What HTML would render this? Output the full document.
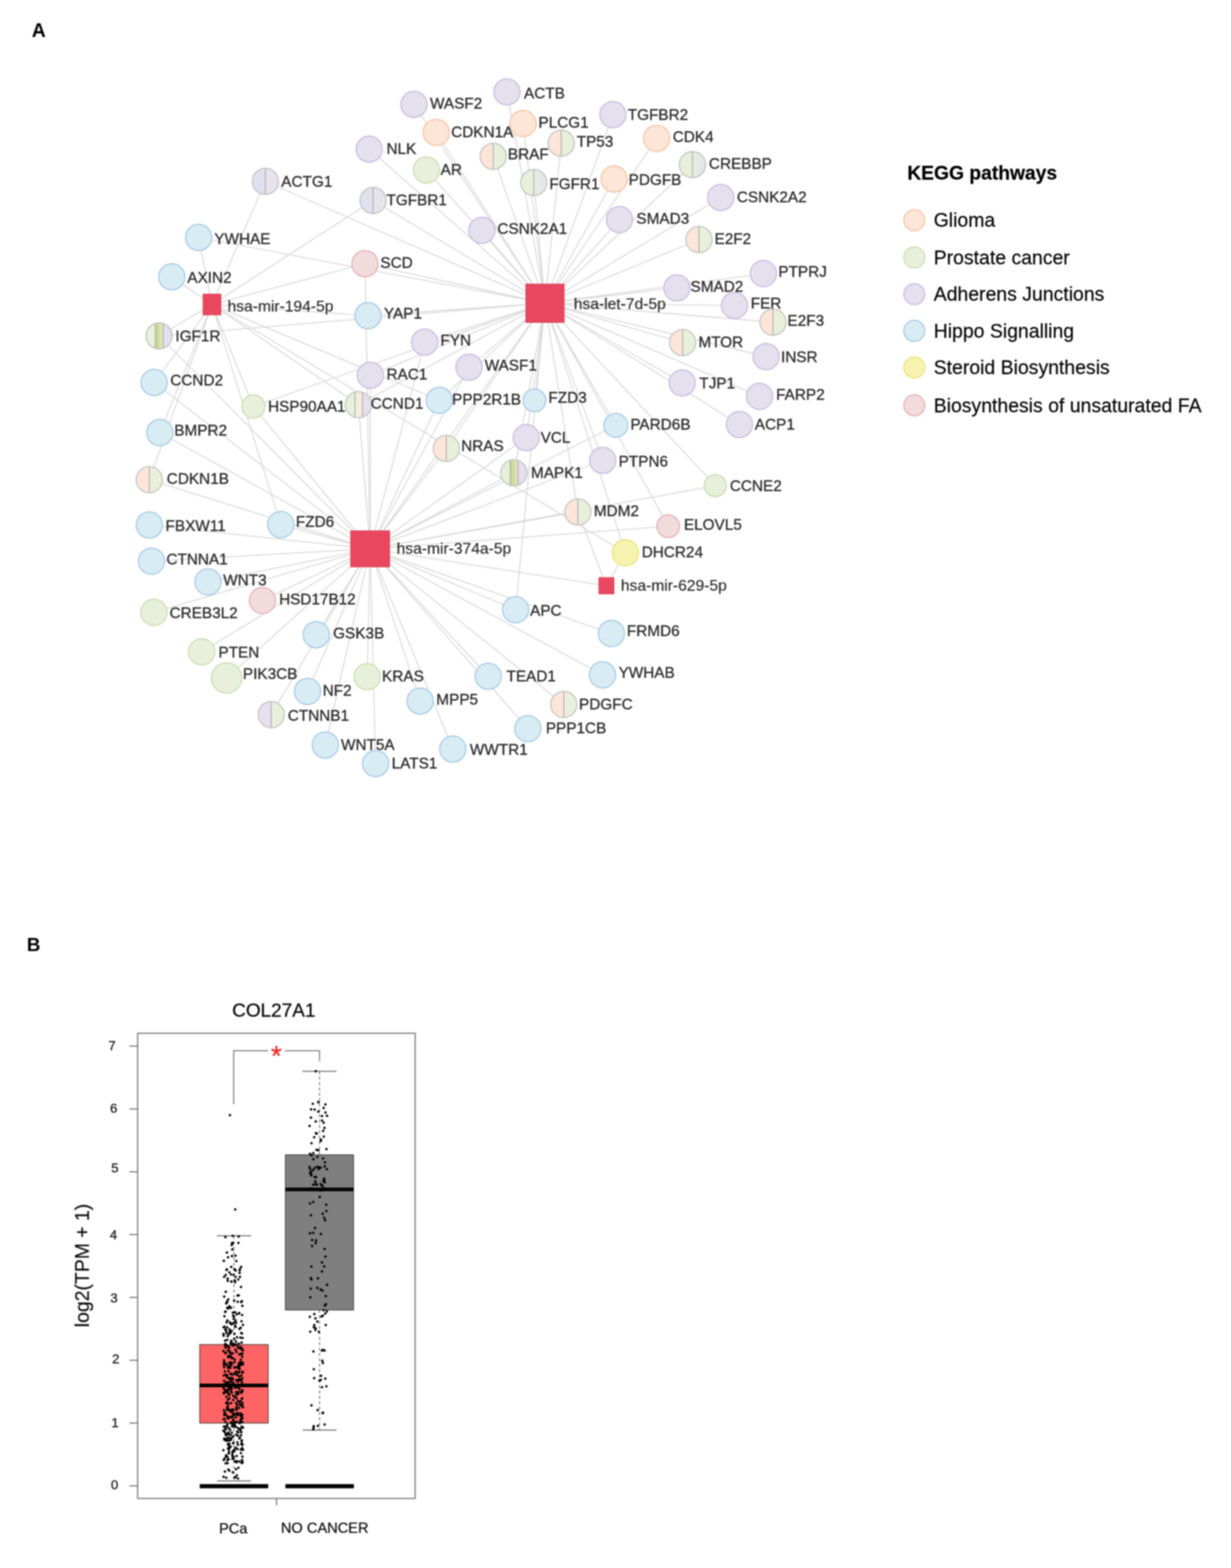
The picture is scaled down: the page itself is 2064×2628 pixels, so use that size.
<!DOCTYPE html><html><head><meta charset="utf-8"><style>html,body{margin:0;padding:0;background:#fff;}body{width:2064px;height:2628px;overflow:hidden;}svg{display:block;filter:blur(0.95px);}text{font-family:"Liberation Sans",Arial,sans-serif;}</style></head><body>
<svg width="2064" height="2628" viewBox="0 0 2064 2628">
<rect width="2064" height="2628" fill="#fff"/>
<text x="53.2" y="62" font-size="32.5" font-weight="bold" fill="#000">A</text>
<text x="45" y="1594" font-size="31.5" font-weight="bold" fill="#000">B</text>
<g stroke="#d9d9d9" stroke-width="1.75" fill="none">
<line x1="355.4" y1="510.4" x2="333.0" y2="398.0"/>
<line x1="355.4" y1="510.4" x2="445.0" y2="304.0"/>
<line x1="355.4" y1="510.4" x2="288.0" y2="464.0"/>
<line x1="355.4" y1="510.4" x2="625.5" y2="336.0"/>
<line x1="355.4" y1="510.4" x2="612.0" y2="442.0"/>
<line x1="355.4" y1="510.4" x2="617.0" y2="529.0"/>
<line x1="355.4" y1="510.4" x2="266.7" y2="563.0"/>
<line x1="355.4" y1="510.4" x2="258.5" y2="641.0"/>
<line x1="355.4" y1="510.4" x2="268.0" y2="725.0"/>
<line x1="355.4" y1="510.4" x2="250.4" y2="804.0"/>
<line x1="355.4" y1="510.4" x2="424.8" y2="681.3"/>
<line x1="355.4" y1="510.4" x2="601.0" y2="678.3"/>
<line x1="355.4" y1="510.4" x2="470.8" y2="879.2"/>
<line x1="355.4" y1="510.4" x2="1048.6" y2="926.6"/>
<line x1="355.4" y1="510.4" x2="736.6" y2="671.0"/>
<line x1="913.8" y1="508.2" x2="694.0" y2="175.0"/>
<line x1="913.8" y1="508.2" x2="850.0" y2="154.0"/>
<line x1="913.8" y1="508.2" x2="731.5" y2="222.0"/>
<line x1="913.8" y1="508.2" x2="877.0" y2="207.0"/>
<line x1="913.8" y1="508.2" x2="1027.6" y2="192.0"/>
<line x1="913.8" y1="508.2" x2="1101.0" y2="232.0"/>
<line x1="913.8" y1="508.2" x2="619.0" y2="250.0"/>
<line x1="913.8" y1="508.2" x2="827.0" y2="262.0"/>
<line x1="913.8" y1="508.2" x2="941.0" y2="240.0"/>
<line x1="913.8" y1="508.2" x2="715.0" y2="285.0"/>
<line x1="913.8" y1="508.2" x2="1161.0" y2="276.0"/>
<line x1="913.8" y1="508.2" x2="895.0" y2="306.0"/>
<line x1="913.8" y1="508.2" x2="1029.6" y2="300.0"/>
<line x1="913.8" y1="508.2" x2="445.0" y2="304.0"/>
<line x1="913.8" y1="508.2" x2="625.5" y2="336.0"/>
<line x1="913.8" y1="508.2" x2="1208.5" y2="331.0"/>
<line x1="913.8" y1="508.2" x2="1038.7" y2="368.0"/>
<line x1="913.8" y1="508.2" x2="808.0" y2="386.0"/>
<line x1="913.8" y1="508.2" x2="333.0" y2="398.0"/>
<line x1="913.8" y1="508.2" x2="1172.0" y2="401.5"/>
<line x1="913.8" y1="508.2" x2="612.0" y2="442.0"/>
<line x1="913.8" y1="508.2" x2="1280.0" y2="458.6"/>
<line x1="913.8" y1="508.2" x2="1135.0" y2="482.5"/>
<line x1="913.8" y1="508.2" x2="1231.6" y2="512.0"/>
<line x1="913.8" y1="508.2" x2="1296.0" y2="540.0"/>
<line x1="913.8" y1="508.2" x2="266.7" y2="563.0"/>
<line x1="913.8" y1="508.2" x2="1144.5" y2="574.2"/>
<line x1="913.8" y1="508.2" x2="1284.6" y2="597.8"/>
<line x1="913.8" y1="508.2" x2="1143.8" y2="641.7"/>
<line x1="913.8" y1="508.2" x2="1273.5" y2="664.3"/>
<line x1="913.8" y1="508.2" x2="1239.8" y2="711.4"/>
<line x1="913.8" y1="508.2" x2="1032.5" y2="712.9"/>
<line x1="913.8" y1="508.2" x2="882.4" y2="733.4"/>
<line x1="913.8" y1="508.2" x2="896.2" y2="671.0"/>
<line x1="913.8" y1="508.2" x2="1010.6" y2="771.7"/>
<line x1="913.8" y1="508.2" x2="861.6" y2="792.5"/>
<line x1="913.8" y1="508.2" x2="968.9" y2="858.0"/>
<line x1="913.8" y1="508.2" x2="1199.4" y2="813.9"/>
<line x1="913.8" y1="508.2" x2="1120.4" y2="882.0"/>
<line x1="913.8" y1="508.2" x2="1048.6" y2="926.6"/>
<line x1="913.8" y1="508.2" x2="786.4" y2="615.4"/>
<line x1="913.8" y1="508.2" x2="712.0" y2="573.5"/>
<line x1="913.8" y1="508.2" x2="621.0" y2="629.0"/>
<line x1="913.8" y1="508.2" x2="424.8" y2="681.3"/>
<line x1="913.8" y1="508.2" x2="617.0" y2="529.0"/>
<line x1="913.8" y1="508.2" x2="601.0" y2="678.3"/>
<line x1="913.8" y1="508.2" x2="736.6" y2="671.0"/>
<line x1="913.8" y1="508.2" x2="748.3" y2="751.5"/>
<line x1="913.8" y1="508.2" x2="864.5" y2="1022.1"/>
<line x1="620.6" y1="919.9" x2="250.4" y2="880.0"/>
<line x1="620.6" y1="919.9" x2="470.8" y2="879.2"/>
<line x1="620.6" y1="919.9" x2="254.0" y2="940.6"/>
<line x1="620.6" y1="919.9" x2="348.7" y2="975.3"/>
<line x1="620.6" y1="919.9" x2="440.0" y2="1006.6"/>
<line x1="620.6" y1="919.9" x2="258.0" y2="1026.2"/>
<line x1="620.6" y1="919.9" x2="530.2" y2="1063.7"/>
<line x1="620.6" y1="919.9" x2="338.2" y2="1092.4"/>
<line x1="620.6" y1="919.9" x2="380.0" y2="1136.3"/>
<line x1="620.6" y1="919.9" x2="615.7" y2="1134.2"/>
<line x1="620.6" y1="919.9" x2="515.6" y2="1158.8"/>
<line x1="620.6" y1="919.9" x2="454.7" y2="1197.8"/>
<line x1="620.6" y1="919.9" x2="545.4" y2="1248.7"/>
<line x1="620.6" y1="919.9" x2="629.8" y2="1279.7"/>
<line x1="620.6" y1="919.9" x2="704.4" y2="1175.0"/>
<line x1="620.6" y1="919.9" x2="759.2" y2="1255.4"/>
<line x1="620.6" y1="919.9" x2="818.6" y2="1133.4"/>
<line x1="620.6" y1="919.9" x2="885.0" y2="1221.2"/>
<line x1="620.6" y1="919.9" x2="945.3" y2="1180.8"/>
<line x1="620.6" y1="919.9" x2="1010.2" y2="1131.0"/>
<line x1="620.6" y1="919.9" x2="1025.1" y2="1061.8"/>
<line x1="620.6" y1="919.9" x2="864.5" y2="1022.1"/>
<line x1="620.6" y1="919.9" x2="1120.4" y2="882.0"/>
<line x1="620.6" y1="919.9" x2="1199.4" y2="813.9"/>
<line x1="620.6" y1="919.9" x2="968.9" y2="858.0"/>
<line x1="620.6" y1="919.9" x2="861.6" y2="792.5"/>
<line x1="620.6" y1="919.9" x2="882.4" y2="733.4"/>
<line x1="620.6" y1="919.9" x2="748.3" y2="751.5"/>
<line x1="620.6" y1="919.9" x2="736.6" y2="671.0"/>
<line x1="620.6" y1="919.9" x2="786.4" y2="615.4"/>
<line x1="620.6" y1="919.9" x2="712.0" y2="573.5"/>
<line x1="620.6" y1="919.9" x2="601.0" y2="678.3"/>
<line x1="620.6" y1="919.9" x2="621.0" y2="629.0"/>
<line x1="620.6" y1="919.9" x2="612.0" y2="442.0"/>
<line x1="620.6" y1="919.9" x2="258.5" y2="641.0"/>
<line x1="620.6" y1="919.9" x2="268.0" y2="725.0"/>
<line x1="620.6" y1="919.9" x2="250.4" y2="804.0"/>
<line x1="620.6" y1="919.9" x2="266.7" y2="563.0"/>
<line x1="620.6" y1="919.9" x2="1010.6" y2="771.7"/>
<line x1="620.6" y1="919.9" x2="1032.5" y2="712.9"/>
<line x1="620.6" y1="919.9" x2="424.8" y2="681.3"/>
<line x1="1016.8" y1="981.8" x2="968.9" y2="858.0"/>
<line x1="1016.8" y1="981.8" x2="1048.6" y2="926.6"/>
<line x1="620.6" y1="919.9" x2="1016.8" y2="981.8"/>
<line x1="620.6" y1="919.9" x2="913.8" y2="508.2"/>
</g>
<defs><linearGradient id="gM1" x1="0" x2="1" y1="0" y2="0"><stop offset="0" stop-color="#bfd392"/><stop offset="0.35" stop-color="#cddc9e"/><stop offset="1" stop-color="#efe4c6"/></linearGradient><linearGradient id="gM2" x1="0" x2="1" y1="0" y2="0"><stop offset="0" stop-color="#e9ecda"/><stop offset="0.4" stop-color="#f4efd9"/><stop offset="1" stop-color="#fbeadc"/></linearGradient><linearGradient id="gPX" x1="0" x2="1" y1="0" y2="0"><stop offset="0" stop-color="#e9eedf"/><stop offset="1" stop-color="#e5e2ea"/></linearGradient><clipPath id="c1"><circle cx="827.0" cy="262.0" r="22.0"/></clipPath><clipPath id="c2"><circle cx="941.0" cy="240.0" r="22.0"/></clipPath><clipPath id="c3"><circle cx="1161.0" cy="276.0" r="22.0"/></clipPath><clipPath id="c4"><circle cx="895.0" cy="306.0" r="22.0"/></clipPath><clipPath id="c5"><circle cx="445.0" cy="304.0" r="22.0"/></clipPath><clipPath id="c6"><circle cx="625.5" cy="336.0" r="22.0"/></clipPath><clipPath id="c7"><circle cx="1172.0" cy="401.5" r="22.0"/></clipPath><clipPath id="c8"><circle cx="1296.0" cy="540.0" r="22.0"/></clipPath><clipPath id="c9"><circle cx="266.7" cy="563.0" r="22.0"/></clipPath><clipPath id="c10"><circle cx="1144.5" cy="574.2" r="22.0"/></clipPath><clipPath id="c11"><circle cx="601.0" cy="678.3" r="22.0"/></clipPath><clipPath id="c12"><circle cx="748.3" cy="751.5" r="22.0"/></clipPath><clipPath id="c13"><circle cx="861.6" cy="792.5" r="22.0"/></clipPath><clipPath id="c14"><circle cx="250.4" cy="804.0" r="22.0"/></clipPath><clipPath id="c15"><circle cx="968.9" cy="858.0" r="22.0"/></clipPath><clipPath id="c16"><circle cx="945.3" cy="1180.8" r="22.0"/></clipPath><clipPath id="c17"><circle cx="454.7" cy="1197.8" r="22.0"/></clipPath></defs>
<circle cx="694.0" cy="175.0" r="22.0" fill="#e5e0ee" stroke="#c9bce0" stroke-width="2"/>
<circle cx="850.0" cy="154.0" r="22.0" fill="#e5e0ee" stroke="#c9bce0" stroke-width="2"/>
<circle cx="731.5" cy="222.0" r="22.0" fill="#fde6d8" stroke="#f6c4a2" stroke-width="2"/>
<circle cx="877.0" cy="207.0" r="22.0" fill="#fde6d8" stroke="#f6c4a2" stroke-width="2"/>
<circle cx="1027.6" cy="192.0" r="22.0" fill="#e5e0ee" stroke="#c9bce0" stroke-width="2"/>
<circle cx="1101.0" cy="232.0" r="22.0" fill="#fde6d8" stroke="#f6c4a2" stroke-width="2"/>
<circle cx="619.0" cy="250.0" r="22.0" fill="#e5e0ee" stroke="#c9bce0" stroke-width="2"/>
<g clip-path="url(#c1)"><rect x="805.0" y="240.0" width="22.0" height="44.0" fill="#fde6d8"/><rect x="827.0" y="240.0" width="22.0" height="44.0" fill="#e8f0dc"/><line x1="827.0" y1="240.0" x2="827.0" y2="284.0" stroke="#a8a8a8" stroke-width="1.5"/></g><circle cx="827.0" cy="262.0" r="22.0" fill="none" stroke="#c4c4c4" stroke-width="2"/>
<g clip-path="url(#c2)"><rect x="919.0" y="218.0" width="22.0" height="44.0" fill="#fde6d8"/><rect x="941.0" y="218.0" width="22.0" height="44.0" fill="#e8f0dc"/><line x1="941.0" y1="218.0" x2="941.0" y2="262.0" stroke="#a8a8a8" stroke-width="1.5"/></g><circle cx="941.0" cy="240.0" r="22.0" fill="none" stroke="#c4c4c4" stroke-width="2"/>
<circle cx="715.0" cy="285.0" r="22.0" fill="#e8f0dc" stroke="#c9deb0" stroke-width="2"/>
<g clip-path="url(#c3)"><rect x="1139.0" y="254.0" width="22.0" height="44.0" fill="#e8f0dc"/><rect x="1161.0" y="254.0" width="22.0" height="44.0" fill="url(#gPX)"/><line x1="1161.0" y1="254.0" x2="1161.0" y2="298.0" stroke="#a8a8a8" stroke-width="1.5"/></g><circle cx="1161.0" cy="276.0" r="22.0" fill="none" stroke="#c4c4c4" stroke-width="2"/>
<g clip-path="url(#c4)"><rect x="873.0" y="284.0" width="22.0" height="44.0" fill="#e8f0dc"/><rect x="895.0" y="284.0" width="22.0" height="44.0" fill="url(#gPX)"/><line x1="895.0" y1="284.0" x2="895.0" y2="328.0" stroke="#a8a8a8" stroke-width="1.5"/></g><circle cx="895.0" cy="306.0" r="22.0" fill="none" stroke="#c4c4c4" stroke-width="2"/>
<circle cx="1029.6" cy="300.0" r="22.0" fill="#fde6d8" stroke="#f6c4a2" stroke-width="2"/>
<g clip-path="url(#c5)"><rect x="423.0" y="282.0" width="22.0" height="44.0" fill="#dfe1ef"/><rect x="445.0" y="282.0" width="22.0" height="44.0" fill="#e7e3ec"/><line x1="445.0" y1="282.0" x2="445.0" y2="326.0" stroke="#a8a8a8" stroke-width="1.5"/></g><circle cx="445.0" cy="304.0" r="22.0" fill="none" stroke="#c4c4c4" stroke-width="2"/>
<g clip-path="url(#c6)"><rect x="603.5" y="314.0" width="22.0" height="44.0" fill="#dfe1ef"/><rect x="625.5" y="314.0" width="22.0" height="44.0" fill="#e7e3ec"/><line x1="625.5" y1="314.0" x2="625.5" y2="358.0" stroke="#a8a8a8" stroke-width="1.5"/></g><circle cx="625.5" cy="336.0" r="22.0" fill="none" stroke="#c4c4c4" stroke-width="2"/>
<circle cx="1208.5" cy="331.0" r="22.0" fill="#e5e0ee" stroke="#c9bce0" stroke-width="2"/>
<circle cx="1038.7" cy="368.0" r="22.0" fill="#e5e0ee" stroke="#c9bce0" stroke-width="2"/>
<circle cx="808.0" cy="386.0" r="22.0" fill="#e5e0ee" stroke="#c9bce0" stroke-width="2"/>
<circle cx="333.0" cy="398.0" r="22.0" fill="#d8edf3" stroke="#a8c8e8" stroke-width="2"/>
<g clip-path="url(#c7)"><rect x="1150.0" y="379.5" width="22.0" height="44.0" fill="#fde6d8"/><rect x="1172.0" y="379.5" width="22.0" height="44.0" fill="#e8f0dc"/><line x1="1172.0" y1="379.5" x2="1172.0" y2="423.5" stroke="#a8a8a8" stroke-width="1.5"/></g><circle cx="1172.0" cy="401.5" r="22.0" fill="none" stroke="#c4c4c4" stroke-width="2"/>
<circle cx="612.0" cy="442.0" r="22.0" fill="#f1dbdb" stroke="#e6b0b7" stroke-width="2"/>
<circle cx="288.0" cy="464.0" r="22.0" fill="#d8edf3" stroke="#a8c8e8" stroke-width="2"/>
<circle cx="1280.0" cy="458.6" r="22.0" fill="#e5e0ee" stroke="#c9bce0" stroke-width="2"/>
<circle cx="1135.0" cy="482.5" r="22.0" fill="#e5e0ee" stroke="#c9bce0" stroke-width="2"/>
<circle cx="617.0" cy="529.0" r="22.0" fill="#d8edf3" stroke="#a8c8e8" stroke-width="2"/>
<circle cx="1231.6" cy="512.0" r="22.0" fill="#e5e0ee" stroke="#c9bce0" stroke-width="2"/>
<g clip-path="url(#c8)"><rect x="1274.0" y="518.0" width="22.0" height="44.0" fill="#fde6d8"/><rect x="1296.0" y="518.0" width="22.0" height="44.0" fill="#e8f0dc"/><line x1="1296.0" y1="518.0" x2="1296.0" y2="562.0" stroke="#a8a8a8" stroke-width="1.5"/></g><circle cx="1296.0" cy="540.0" r="22.0" fill="none" stroke="#c4c4c4" stroke-width="2"/>
<g clip-path="url(#c9)"><rect x="244.7" y="541.0" width="15.8" height="44.0" fill="#e8f0dc"/><rect x="260.5" y="541.0" width="13.2" height="44.0" fill="url(#gM1)"/><rect x="273.7" y="541.0" width="15.0" height="44.0" fill="#e5e0ee"/><line x1="260.5" y1="541.0" x2="260.5" y2="585.0" stroke="#a8a8a8" stroke-width="1.5"/><line x1="273.7" y1="541.0" x2="273.7" y2="585.0" stroke="#a8a8a8" stroke-width="1.5"/></g><circle cx="266.7" cy="563.0" r="22.0" fill="none" stroke="#c4c4c4" stroke-width="2"/>
<circle cx="712.0" cy="573.5" r="22.0" fill="#e5e0ee" stroke="#c9bce0" stroke-width="2"/>
<g clip-path="url(#c10)"><rect x="1122.5" y="552.2" width="22.0" height="44.0" fill="#fde6d8"/><rect x="1144.5" y="552.2" width="22.0" height="44.0" fill="#e8f0dc"/><line x1="1144.5" y1="552.2" x2="1144.5" y2="596.2" stroke="#a8a8a8" stroke-width="1.5"/></g><circle cx="1144.5" cy="574.2" r="22.0" fill="none" stroke="#c4c4c4" stroke-width="2"/>
<circle cx="1284.6" cy="597.8" r="22.0" fill="#e5e0ee" stroke="#c9bce0" stroke-width="2"/>
<circle cx="786.4" cy="615.4" r="22.0" fill="#e5e0ee" stroke="#c9bce0" stroke-width="2"/>
<circle cx="621.0" cy="629.0" r="22.0" fill="#e5e0ee" stroke="#c9bce0" stroke-width="2"/>
<circle cx="258.5" cy="641.0" r="22.0" fill="#d8edf3" stroke="#a8c8e8" stroke-width="2"/>
<circle cx="1143.8" cy="641.7" r="22.0" fill="#e5e0ee" stroke="#c9bce0" stroke-width="2"/>
<circle cx="424.8" cy="681.3" r="19.5" fill="#e8f0dc" stroke="#c9deb0" stroke-width="2"/>
<g clip-path="url(#c11)"><rect x="579.0" y="656.3" width="16.1" height="44.0" fill="#e8f0dc"/><rect x="595.1" y="656.3" width="12.5" height="44.0" fill="url(#gM2)"/><rect x="607.6" y="656.3" width="15.4" height="44.0" fill="#e5e0ee"/><line x1="595.1" y1="656.3" x2="595.1" y2="700.3" stroke="#a8a8a8" stroke-width="1.5"/><line x1="607.6" y1="656.3" x2="607.6" y2="700.3" stroke="#a8a8a8" stroke-width="1.5"/></g><circle cx="601.0" cy="678.3" r="22.0" fill="none" stroke="#c4c4c4" stroke-width="2"/>
<circle cx="736.6" cy="671.0" r="22.0" fill="#d8edf3" stroke="#a8c8e8" stroke-width="2"/>
<circle cx="896.2" cy="671.0" r="19.0" fill="#d8edf3" stroke="#a8c8e8" stroke-width="2"/>
<circle cx="1273.5" cy="664.3" r="22.0" fill="#e5e0ee" stroke="#c9bce0" stroke-width="2"/>
<circle cx="1032.5" cy="712.9" r="20.0" fill="#d8edf3" stroke="#a8c8e8" stroke-width="2"/>
<circle cx="1239.8" cy="711.4" r="22.0" fill="#e5e0ee" stroke="#c9bce0" stroke-width="2"/>
<circle cx="268.0" cy="725.0" r="22.0" fill="#d8edf3" stroke="#a8c8e8" stroke-width="2"/>
<circle cx="882.4" cy="733.4" r="22.0" fill="#e5e0ee" stroke="#c9bce0" stroke-width="2"/>
<g clip-path="url(#c12)"><rect x="726.3" y="729.5" width="22.0" height="44.0" fill="#fde6d8"/><rect x="748.3" y="729.5" width="22.0" height="44.0" fill="#e8f0dc"/><line x1="748.3" y1="729.5" x2="748.3" y2="773.5" stroke="#a8a8a8" stroke-width="1.5"/></g><circle cx="748.3" cy="751.5" r="22.0" fill="none" stroke="#c4c4c4" stroke-width="2"/>
<circle cx="1010.6" cy="771.7" r="22.0" fill="#e5e0ee" stroke="#c9bce0" stroke-width="2"/>
<g clip-path="url(#c13)"><rect x="839.6" y="770.5" width="15.8" height="44.0" fill="#e8f0dc"/><rect x="855.4" y="770.5" width="13.2" height="44.0" fill="url(#gM1)"/><rect x="868.6" y="770.5" width="15.0" height="44.0" fill="#e5e0ee"/><line x1="855.4" y1="770.5" x2="855.4" y2="814.5" stroke="#a8a8a8" stroke-width="1.5"/><line x1="868.6" y1="770.5" x2="868.6" y2="814.5" stroke="#a8a8a8" stroke-width="1.5"/></g><circle cx="861.6" cy="792.5" r="22.0" fill="none" stroke="#c4c4c4" stroke-width="2"/>
<g clip-path="url(#c14)"><rect x="228.4" y="782.0" width="22.0" height="44.0" fill="#fde6d8"/><rect x="250.4" y="782.0" width="22.0" height="44.0" fill="#e8f0dc"/><line x1="250.4" y1="782.0" x2="250.4" y2="826.0" stroke="#a8a8a8" stroke-width="1.5"/></g><circle cx="250.4" cy="804.0" r="22.0" fill="none" stroke="#c4c4c4" stroke-width="2"/>
<circle cx="1199.4" cy="813.9" r="18.5" fill="#e8f0dc" stroke="#c9deb0" stroke-width="2"/>
<g clip-path="url(#c15)"><rect x="946.9" y="836.0" width="22.0" height="44.0" fill="#fde6d8"/><rect x="968.9" y="836.0" width="22.0" height="44.0" fill="#e8f0dc"/><line x1="968.9" y1="836.0" x2="968.9" y2="880.0" stroke="#a8a8a8" stroke-width="1.5"/></g><circle cx="968.9" cy="858.0" r="22.0" fill="none" stroke="#c4c4c4" stroke-width="2"/>
<circle cx="250.4" cy="880.0" r="22.0" fill="#d8edf3" stroke="#a8c8e8" stroke-width="2"/>
<circle cx="470.8" cy="879.2" r="22.0" fill="#d8edf3" stroke="#a8c8e8" stroke-width="2"/>
<circle cx="1120.4" cy="882.0" r="19.0" fill="#f1dbdb" stroke="#e6b0b7" stroke-width="2"/>
<circle cx="1048.6" cy="926.6" r="22.0" fill="#f6f3b0" stroke="#eee27a" stroke-width="2"/>
<circle cx="254.0" cy="940.6" r="22.0" fill="#d8edf3" stroke="#a8c8e8" stroke-width="2"/>
<circle cx="348.7" cy="975.3" r="22.0" fill="#d8edf3" stroke="#a8c8e8" stroke-width="2"/>
<circle cx="440.0" cy="1006.6" r="22.0" fill="#f1dbdb" stroke="#e6b0b7" stroke-width="2"/>
<circle cx="258.0" cy="1026.2" r="22.0" fill="#e8f0dc" stroke="#c9deb0" stroke-width="2"/>
<circle cx="864.5" cy="1022.1" r="22.0" fill="#d8edf3" stroke="#a8c8e8" stroke-width="2"/>
<circle cx="1025.1" cy="1061.8" r="22.0" fill="#d8edf3" stroke="#a8c8e8" stroke-width="2"/>
<circle cx="530.2" cy="1063.7" r="22.0" fill="#d8edf3" stroke="#a8c8e8" stroke-width="2"/>
<circle cx="338.2" cy="1092.4" r="22.0" fill="#e8f0dc" stroke="#c9deb0" stroke-width="2"/>
<circle cx="380.0" cy="1136.3" r="25.5" fill="#e8f0dc" stroke="#c9deb0" stroke-width="2"/>
<circle cx="615.7" cy="1134.2" r="22.0" fill="#e8f0dc" stroke="#c9deb0" stroke-width="2"/>
<circle cx="818.6" cy="1133.4" r="22.0" fill="#d8edf3" stroke="#a8c8e8" stroke-width="2"/>
<circle cx="1010.2" cy="1131.0" r="22.0" fill="#d8edf3" stroke="#a8c8e8" stroke-width="2"/>
<circle cx="515.6" cy="1158.8" r="22.0" fill="#d8edf3" stroke="#a8c8e8" stroke-width="2"/>
<circle cx="704.4" cy="1175.0" r="22.0" fill="#d8edf3" stroke="#a8c8e8" stroke-width="2"/>
<g clip-path="url(#c16)"><rect x="923.3" y="1158.8" width="22.0" height="44.0" fill="#fde6d8"/><rect x="945.3" y="1158.8" width="22.0" height="44.0" fill="#e8f0dc"/><line x1="945.3" y1="1158.8" x2="945.3" y2="1202.8" stroke="#a8a8a8" stroke-width="1.5"/></g><circle cx="945.3" cy="1180.8" r="22.0" fill="none" stroke="#c4c4c4" stroke-width="2"/>
<g clip-path="url(#c17)"><rect x="432.7" y="1175.8" width="22.0" height="44.0" fill="#e5e0ee"/><rect x="454.7" y="1175.8" width="22.0" height="44.0" fill="#e8f0dc"/><line x1="454.7" y1="1175.8" x2="454.7" y2="1219.8" stroke="#a8a8a8" stroke-width="1.5"/></g><circle cx="454.7" cy="1197.8" r="22.0" fill="none" stroke="#c4c4c4" stroke-width="2"/>
<circle cx="885.0" cy="1221.2" r="22.0" fill="#d8edf3" stroke="#a8c8e8" stroke-width="2"/>
<circle cx="545.4" cy="1248.7" r="22.0" fill="#d8edf3" stroke="#a8c8e8" stroke-width="2"/>
<circle cx="759.2" cy="1255.4" r="22.0" fill="#d8edf3" stroke="#a8c8e8" stroke-width="2"/>
<circle cx="629.8" cy="1279.7" r="22.0" fill="#d8edf3" stroke="#a8c8e8" stroke-width="2"/>
<rect x="340.3" y="492.9" width="30.2" height="35.0" fill="#e8475f" stroke="#dc3f52" stroke-width="1"/>
<rect x="881.5" y="476.0" width="64.5" height="64.5" fill="#e8475f" stroke="#dc3f52" stroke-width="1"/>
<rect x="587.9" y="889.5" width="65.5" height="60.7" fill="#e8475f" stroke="#dc3f52" stroke-width="1"/>
<rect x="1004.0" y="968.0" width="25.5" height="27.5" fill="#e8475f" stroke="#dc3f52" stroke-width="1"/>
<g font-size="25.7" fill="#2b2b2b" stroke="#2b2b2b" stroke-width="0.45">
<text x="721.0" y="182.1">WASF2</text>
<text x="878.5" y="165.1">ACTB</text>
<text x="756.4" y="230.1">CDKN1A</text>
<text x="902.8" y="214.1">PLCG1</text>
<text x="1052.5" y="201.1">TGFBR2</text>
<text x="1128.0" y="238.1">CDK4</text>
<text x="648.0" y="258.1">NLK</text>
<text x="851.5" y="266.6">BRAF</text>
<text x="967.0" y="245.7">TP53</text>
<text x="738.8" y="293.1">AR</text>
<text x="1188.6" y="282.7">CREBBP</text>
<text x="921.0" y="317.1">FGFR1</text>
<text x="1054.0" y="310.1">PDGFB</text>
<text x="471.6" y="313.3">ACTG1</text>
<text x="648.0" y="343.8">TGFBR1</text>
<text x="1235.4" y="338.6">CSNK2A2</text>
<text x="1067.0" y="374.8">SMAD3</text>
<text x="834.0" y="392.1">CSNK2A1</text>
<text x="359.3" y="409.1">YWHAE</text>
<text x="1198.0" y="408.6">E2F2</text>
<text x="637.8" y="448.8">SCD</text>
<text x="314.0" y="474.1">AXIN2</text>
<text x="1305.0" y="463.8">PTPRJ</text>
<text x="1157.8" y="488.6">SMAD2</text>
<text x="643.7" y="534.1">YAP1</text>
<text x="1258.8" y="516.5">FER</text>
<text x="1320.3" y="545.7">E2F3</text>
<text x="294.0" y="572.1">IGF1R</text>
<text x="738.5" y="579.1">FYN</text>
<text x="1171.0" y="582.3">MTOR</text>
<text x="1309.5" y="607.1">INSR</text>
<text x="812.7" y="621.1">WASF1</text>
<text x="648.0" y="635.6">RAC1</text>
<text x="285.5" y="646.1">CCND2</text>
<text x="1172.5" y="651.1">TJP1</text>
<text x="449.4" y="689.6">HSP90AA1</text>
<text x="621.5" y="685.1">CCND1</text>
<text x="758.0" y="678.1">PPP2R1B</text>
<text x="919.6" y="675.1">FZD3</text>
<text x="1301.3" y="670.1">FARP2</text>
<text x="1056.9" y="720.1">PARD6B</text>
<text x="1265.6" y="720.1">ACP1</text>
<text x="292.2" y="730.1">BMPR2</text>
<text x="906.4" y="742.1">VCL</text>
<text x="773.2" y="756.1">NRAS</text>
<text x="1037.2" y="781.6">PTPN6</text>
<text x="890.3" y="800.6">MAPK1</text>
<text x="279.6" y="811.1">CDKN1B</text>
<text x="1223.7" y="822.6">CCNE2</text>
<text x="995.7" y="865.1">MDM2</text>
<text x="277.6" y="889.9">FBXW11</text>
<text x="496.0" y="882.9">FZD6</text>
<text x="1146.7" y="888.1">ELOVL5</text>
<text x="1075.9" y="933.8">DHCR24</text>
<text x="279.0" y="945.9">CTNNA1</text>
<text x="374.2" y="980.8">WNT3</text>
<text x="467.9" y="1012.9">HSD17B12</text>
<text x="284.3" y="1036.1">CREB3L2</text>
<text x="888.8" y="1032.1">APC</text>
<text x="1051.0" y="1065.9">FRMD6</text>
<text x="558.6" y="1070.1">GSK3B</text>
<text x="366.3" y="1102.1">PTEN</text>
<text x="407.3" y="1137.6">PIK3CB</text>
<text x="640.6" y="1142.1">KRAS</text>
<text x="849.3" y="1142.1">TEAD1</text>
<text x="1037.2" y="1135.6">YWHAB</text>
<text x="541.0" y="1166.1">NF2</text>
<text x="731.6" y="1181.1">MPP5</text>
<text x="970.8" y="1188.9">PDGFC</text>
<text x="482.5" y="1208.1">CTNNB1</text>
<text x="915.2" y="1229.1">PPP1CB</text>
<text x="571.8" y="1257.1">WNT5A</text>
<text x="787.8" y="1265.1">WWTR1</text>
<text x="656.7" y="1288.1">LATS1</text>
<text x="381.5" y="521.7" font-size="26.2" stroke-width="0.25">hsa-mir-194-5p</text>
<text x="962.0" y="518.0" font-size="26.2" stroke-width="0.25">hsa-let-7d-5p</text>
<text x="665.0" y="928.0" font-size="26.2" stroke-width="0.25">hsa-mir-374a-5p</text>
<text x="1041.0" y="990.3" font-size="26.2" stroke-width="0.25">hsa-mir-629-5p</text>
</g>
<text x="1521.2" y="300.6" font-size="32.3" font-weight="bold" fill="#000" stroke="#000" stroke-width="0.3">KEGG pathways</text>
<circle cx="1533" cy="369.2" r="17.6" fill="#fde6d8" stroke="#f6c4a2" stroke-width="2"/>
<text x="1565.5" y="380.4" font-size="32.6" fill="#050505" stroke="#050505" stroke-width="0.3">Glioma</text>
<circle cx="1533" cy="431.5" r="17.6" fill="#e8f0dc" stroke="#c9deb0" stroke-width="2"/>
<text x="1565.5" y="442.7" font-size="32.6" fill="#050505" stroke="#050505" stroke-width="0.3">Prostate cancer</text>
<circle cx="1533" cy="493.0" r="17.6" fill="#e5e0ee" stroke="#c9bce0" stroke-width="2"/>
<text x="1565.5" y="504.2" font-size="32.6" fill="#050505" stroke="#050505" stroke-width="0.3">Adherens Junctions</text>
<circle cx="1533" cy="554.5" r="17.6" fill="#d8edf3" stroke="#a8c8e8" stroke-width="2"/>
<text x="1565.5" y="565.7" font-size="32.6" fill="#050505" stroke="#050505" stroke-width="0.3">Hippo Signalling</text>
<circle cx="1533" cy="616.0" r="17.6" fill="#f6f3b0" stroke="#eee27a" stroke-width="2"/>
<text x="1565.5" y="627.2" font-size="32.6" fill="#050505" stroke="#050505" stroke-width="0.3">Steroid Biosynthesis</text>
<circle cx="1533" cy="679.3" r="17.6" fill="#f1dbdb" stroke="#e6b0b7" stroke-width="2"/>
<text x="1565.5" y="690.5" font-size="32.6" fill="#050505" stroke="#050505" stroke-width="0.3">Biosynthesis of unsaturated FA</text>
<text x="459" y="1704.3" font-size="31.8" fill="#080808" stroke="#080808" stroke-width="0.4" text-anchor="middle">COL27A1</text>
<rect x="230.8" y="1731.8" width="465.3" height="779.7" fill="none" stroke="#858585" stroke-width="2.2"/>
<line x1="217" y1="2490.4" x2="230.6" y2="2490.4" stroke="#555" stroke-width="1.5"/>
<text x="192.2" y="2496.3" font-size="22" fill="#1e1e1e" stroke="#1e1e1e" stroke-width="0.5" text-anchor="middle">0</text>
<line x1="217" y1="2385.1" x2="230.6" y2="2385.1" stroke="#555" stroke-width="1.5"/>
<text x="192.8" y="2391.9" font-size="22" fill="#1e1e1e" stroke="#1e1e1e" stroke-width="0.5" text-anchor="middle">1</text>
<line x1="217" y1="2279.8" x2="230.6" y2="2279.8" stroke="#555" stroke-width="1.5"/>
<text x="194.0" y="2285.2" font-size="22" fill="#1e1e1e" stroke="#1e1e1e" stroke-width="0.5" text-anchor="middle">2</text>
<line x1="217" y1="2174.5" x2="230.6" y2="2174.5" stroke="#555" stroke-width="1.5"/>
<text x="191.0" y="2182.6" font-size="22" fill="#1e1e1e" stroke="#1e1e1e" stroke-width="0.5" text-anchor="middle">3</text>
<line x1="217" y1="2069.2" x2="230.6" y2="2069.2" stroke="#555" stroke-width="1.5"/>
<text x="190.3" y="2077.2" font-size="22" fill="#1e1e1e" stroke="#1e1e1e" stroke-width="0.5" text-anchor="middle">4</text>
<line x1="217" y1="1963.9" x2="230.6" y2="1963.9" stroke="#555" stroke-width="1.5"/>
<text x="192.5" y="1965.2" font-size="22" fill="#1e1e1e" stroke="#1e1e1e" stroke-width="0.5" text-anchor="middle">5</text>
<line x1="217" y1="1858.6" x2="230.6" y2="1858.6" stroke="#555" stroke-width="1.5"/>
<text x="190.7" y="1865.2" font-size="22" fill="#1e1e1e" stroke="#1e1e1e" stroke-width="0.5" text-anchor="middle">6</text>
<line x1="217" y1="1753.3" x2="230.6" y2="1753.3" stroke="#555" stroke-width="1.5"/>
<text x="187.9" y="1759.5" font-size="22" fill="#1e1e1e" stroke="#1e1e1e" stroke-width="0.5" text-anchor="middle">7</text>
<text transform="translate(149,2121) rotate(-90)" font-size="32.5" fill="#111" stroke="#111" stroke-width="0.4" text-anchor="middle">log2(TPM + 1)</text>
<line x1="463.6" y1="2511.5" x2="463.6" y2="2523" stroke="#555" stroke-width="1.5"/>
<text x="391" y="2570" font-size="24.5" fill="#111" stroke="#111" stroke-width="0.4" text-anchor="middle">PCa</text>
<text x="544.4" y="2569.4" font-size="24.5" fill="#111" stroke="#111" stroke-width="0.4" text-anchor="middle">NO CANCER</text>
<rect x="334.9" y="2253.5" width="114.8" height="131.6" fill="#fe6464" stroke="#333" stroke-width="1.2"/>
<rect x="478.5" y="1935.5" width="114.3" height="260.1" fill="#7f7f7f" stroke="#333" stroke-width="1.2"/>
<line x1="392.3" y1="2071.3" x2="392.3" y2="2253.5" stroke="#444" stroke-width="1.2" stroke-dasharray="5,4"/>
<line x1="392.3" y1="2385.1" x2="392.3" y2="2482.0" stroke="#444" stroke-width="1.2" stroke-dasharray="5,4"/>
<line x1="363.8" y1="2071.3" x2="420.8" y2="2071.3" stroke="#555" stroke-width="1.5"/>
<line x1="363.8" y1="2482.0" x2="420.8" y2="2482.0" stroke="#555" stroke-width="1.5"/>
<line x1="535.7" y1="1795.4" x2="535.7" y2="1935.5" stroke="#444" stroke-width="1.2" stroke-dasharray="5,4"/>
<line x1="535.7" y1="2195.6" x2="535.7" y2="2396.7" stroke="#444" stroke-width="1.2" stroke-dasharray="5,4"/>
<line x1="507.2" y1="1795.4" x2="564.2" y2="1795.4" stroke="#555" stroke-width="1.5"/>
<line x1="507.2" y1="2396.7" x2="564.2" y2="2396.7" stroke="#555" stroke-width="1.5"/>
<g fill="#000"><circle cx="390.3" cy="2467.5" r="2.1"/><circle cx="397.1" cy="2472.8" r="2.1"/><circle cx="399.8" cy="2460.0" r="2.1"/><circle cx="394.9" cy="2476.1" r="2.1"/><circle cx="395.7" cy="2462.4" r="2.1"/><circle cx="377.1" cy="2466.4" r="2.1"/><circle cx="379.4" cy="2476.8" r="2.1"/><circle cx="382.9" cy="2463.1" r="2.1"/><circle cx="399.0" cy="2478.0" r="2.1"/><circle cx="384.5" cy="2464.8" r="2.1"/><circle cx="393.2" cy="2476.2" r="2.1"/><circle cx="374.9" cy="2475.2" r="2.1"/><circle cx="376.5" cy="2444.6" r="2.1"/><circle cx="383.4" cy="2436.1" r="2.1"/><circle cx="396.7" cy="2450.9" r="2.1"/><circle cx="397.3" cy="2448.8" r="2.1"/><circle cx="396.8" cy="2440.3" r="2.1"/><circle cx="384.1" cy="2433.6" r="2.1"/><circle cx="391.5" cy="2441.4" r="2.1"/><circle cx="389.8" cy="2445.2" r="2.1"/><circle cx="389.9" cy="2433.0" r="2.1"/><circle cx="378.4" cy="2452.6" r="2.1"/><circle cx="404.0" cy="2435.5" r="2.1"/><circle cx="381.1" cy="2447.4" r="2.1"/><circle cx="406.8" cy="2450.5" r="2.1"/><circle cx="405.4" cy="2451.1" r="2.1"/><circle cx="375.1" cy="2447.0" r="2.1"/><circle cx="389.6" cy="2436.4" r="2.1"/><circle cx="401.6" cy="2449.7" r="2.1"/><circle cx="406.4" cy="2441.3" r="2.1"/><circle cx="389.3" cy="2440.1" r="2.1"/><circle cx="383.4" cy="2445.7" r="2.1"/><circle cx="381.4" cy="2442.0" r="2.1"/><circle cx="405.7" cy="2452.2" r="2.1"/><circle cx="381.5" cy="2452.3" r="2.1"/><circle cx="393.7" cy="2449.2" r="2.1"/><circle cx="379.2" cy="2439.2" r="2.1"/><circle cx="391.8" cy="2444.5" r="2.1"/><circle cx="405.9" cy="2446.9" r="2.1"/><circle cx="378.9" cy="2441.2" r="2.1"/><circle cx="401.6" cy="2411.0" r="2.1"/><circle cx="391.3" cy="2418.3" r="2.1"/><circle cx="403.8" cy="2394.8" r="2.1"/><circle cx="397.7" cy="2399.4" r="2.1"/><circle cx="382.1" cy="2420.9" r="2.1"/><circle cx="404.1" cy="2405.3" r="2.1"/><circle cx="390.5" cy="2407.6" r="2.1"/><circle cx="375.3" cy="2391.0" r="2.1"/><circle cx="374.6" cy="2397.9" r="2.1"/><circle cx="390.7" cy="2418.8" r="2.1"/><circle cx="389.4" cy="2386.0" r="2.1"/><circle cx="384.5" cy="2426.9" r="2.1"/><circle cx="379.1" cy="2412.7" r="2.1"/><circle cx="385.9" cy="2396.6" r="2.1"/><circle cx="384.9" cy="2425.3" r="2.1"/><circle cx="402.2" cy="2409.3" r="2.1"/><circle cx="374.6" cy="2430.6" r="2.1"/><circle cx="399.3" cy="2400.8" r="2.1"/><circle cx="402.2" cy="2396.3" r="2.1"/><circle cx="378.5" cy="2405.3" r="2.1"/><circle cx="405.1" cy="2391.0" r="2.1"/><circle cx="398.0" cy="2417.6" r="2.1"/><circle cx="404.3" cy="2399.5" r="2.1"/><circle cx="384.1" cy="2404.3" r="2.1"/><circle cx="386.8" cy="2405.0" r="2.1"/><circle cx="387.5" cy="2410.9" r="2.1"/><circle cx="407.5" cy="2392.7" r="2.1"/><circle cx="393.9" cy="2387.7" r="2.1"/><circle cx="386.4" cy="2410.0" r="2.1"/><circle cx="388.6" cy="2401.0" r="2.1"/><circle cx="383.6" cy="2429.6" r="2.1"/><circle cx="376.1" cy="2399.2" r="2.1"/><circle cx="377.9" cy="2401.8" r="2.1"/><circle cx="402.0" cy="2385.4" r="2.1"/><circle cx="383.9" cy="2393.5" r="2.1"/><circle cx="405.4" cy="2419.0" r="2.1"/><circle cx="382.7" cy="2414.2" r="2.1"/><circle cx="383.3" cy="2400.8" r="2.1"/><circle cx="391.4" cy="2431.4" r="2.1"/><circle cx="380.8" cy="2410.6" r="2.1"/><circle cx="386.8" cy="2424.5" r="2.1"/><circle cx="406.1" cy="2426.9" r="2.1"/><circle cx="403.7" cy="2429.7" r="2.1"/><circle cx="401.3" cy="2396.1" r="2.1"/><circle cx="395.3" cy="2426.4" r="2.1"/><circle cx="404.6" cy="2420.8" r="2.1"/><circle cx="405.5" cy="2414.0" r="2.1"/><circle cx="392.6" cy="2391.2" r="2.1"/><circle cx="398.2" cy="2428.7" r="2.1"/><circle cx="376.1" cy="2411.2" r="2.1"/><circle cx="398.7" cy="2406.4" r="2.1"/><circle cx="389.4" cy="2390.6" r="2.1"/><circle cx="399.3" cy="2393.7" r="2.1"/><circle cx="395.8" cy="2391.5" r="2.1"/><circle cx="383.9" cy="2419.3" r="2.1"/><circle cx="376.1" cy="2412.8" r="2.1"/><circle cx="405.1" cy="2415.5" r="2.1"/><circle cx="378.7" cy="2390.6" r="2.1"/><circle cx="390.1" cy="2387.1" r="2.1"/><circle cx="385.8" cy="2425.3" r="2.1"/><circle cx="384.3" cy="2424.1" r="2.1"/><circle cx="398.9" cy="2421.5" r="2.1"/><circle cx="406.7" cy="2421.4" r="2.1"/><circle cx="383.1" cy="2409.5" r="2.1"/><circle cx="396.1" cy="2404.6" r="2.1"/><circle cx="384.4" cy="2420.0" r="2.1"/><circle cx="392.9" cy="2432.3" r="2.1"/><circle cx="387.5" cy="2412.6" r="2.1"/><circle cx="380.0" cy="2415.0" r="2.1"/><circle cx="379.8" cy="2405.6" r="2.1"/><circle cx="381.4" cy="2387.3" r="2.1"/><circle cx="404.4" cy="2399.8" r="2.1"/><circle cx="390.9" cy="2408.1" r="2.1"/><circle cx="381.8" cy="2403.2" r="2.1"/><circle cx="404.4" cy="2400.4" r="2.1"/><circle cx="407.4" cy="2429.9" r="2.1"/><circle cx="389.3" cy="2389.9" r="2.1"/><circle cx="379.1" cy="2395.5" r="2.1"/><circle cx="380.8" cy="2391.0" r="2.1"/><circle cx="377.5" cy="2394.7" r="2.1"/><circle cx="385.8" cy="2413.9" r="2.1"/><circle cx="377.5" cy="2413.6" r="2.1"/><circle cx="382.4" cy="2427.6" r="2.1"/><circle cx="383.0" cy="2402.4" r="2.1"/><circle cx="393.3" cy="2429.5" r="2.1"/><circle cx="403.8" cy="2380.8" r="2.1"/><circle cx="399.2" cy="2371.9" r="2.1"/><circle cx="388.1" cy="2374.8" r="2.1"/><circle cx="388.2" cy="2363.6" r="2.1"/><circle cx="391.8" cy="2381.8" r="2.1"/><circle cx="386.9" cy="2385.1" r="2.1"/><circle cx="385.7" cy="2375.5" r="2.1"/><circle cx="376.5" cy="2378.7" r="2.1"/><circle cx="383.7" cy="2362.1" r="2.1"/><circle cx="406.4" cy="2383.5" r="2.1"/><circle cx="378.7" cy="2329.9" r="2.1"/><circle cx="391.1" cy="2346.3" r="2.1"/><circle cx="395.3" cy="2375.7" r="2.1"/><circle cx="403.0" cy="2369.2" r="2.1"/><circle cx="381.6" cy="2363.2" r="2.1"/><circle cx="383.4" cy="2362.1" r="2.1"/><circle cx="382.7" cy="2377.3" r="2.1"/><circle cx="387.7" cy="2331.5" r="2.1"/><circle cx="389.2" cy="2322.4" r="2.1"/><circle cx="406.0" cy="2355.7" r="2.1"/><circle cx="402.5" cy="2354.5" r="2.1"/><circle cx="403.3" cy="2379.7" r="2.1"/><circle cx="375.2" cy="2378.6" r="2.1"/><circle cx="375.6" cy="2363.5" r="2.1"/><circle cx="397.9" cy="2368.4" r="2.1"/><circle cx="404.1" cy="2332.7" r="2.1"/><circle cx="390.1" cy="2374.9" r="2.1"/><circle cx="393.9" cy="2383.6" r="2.1"/><circle cx="374.5" cy="2325.0" r="2.1"/><circle cx="387.4" cy="2351.7" r="2.1"/><circle cx="405.1" cy="2375.8" r="2.1"/><circle cx="401.7" cy="2350.8" r="2.1"/><circle cx="402.7" cy="2383.4" r="2.1"/><circle cx="406.6" cy="2351.7" r="2.1"/><circle cx="382.7" cy="2323.3" r="2.1"/><circle cx="378.1" cy="2330.6" r="2.1"/><circle cx="379.6" cy="2341.1" r="2.1"/><circle cx="391.7" cy="2368.6" r="2.1"/><circle cx="397.0" cy="2361.9" r="2.1"/><circle cx="405.6" cy="2374.5" r="2.1"/><circle cx="398.3" cy="2336.3" r="2.1"/><circle cx="395.9" cy="2351.5" r="2.1"/><circle cx="399.7" cy="2335.9" r="2.1"/><circle cx="389.6" cy="2364.3" r="2.1"/><circle cx="392.7" cy="2371.0" r="2.1"/><circle cx="375.8" cy="2333.8" r="2.1"/><circle cx="400.3" cy="2322.9" r="2.1"/><circle cx="382.2" cy="2331.2" r="2.1"/><circle cx="404.9" cy="2334.2" r="2.1"/><circle cx="395.8" cy="2333.4" r="2.1"/><circle cx="384.5" cy="2338.4" r="2.1"/><circle cx="378.7" cy="2370.8" r="2.1"/><circle cx="382.8" cy="2352.4" r="2.1"/><circle cx="395.5" cy="2362.6" r="2.1"/><circle cx="397.6" cy="2383.3" r="2.1"/><circle cx="378.2" cy="2383.3" r="2.1"/><circle cx="376.8" cy="2367.4" r="2.1"/><circle cx="391.8" cy="2368.7" r="2.1"/><circle cx="393.7" cy="2341.3" r="2.1"/><circle cx="387.3" cy="2324.7" r="2.1"/><circle cx="381.9" cy="2356.8" r="2.1"/><circle cx="394.3" cy="2325.9" r="2.1"/><circle cx="374.8" cy="2322.7" r="2.1"/><circle cx="384.5" cy="2324.8" r="2.1"/><circle cx="389.7" cy="2362.1" r="2.1"/><circle cx="406.1" cy="2371.2" r="2.1"/><circle cx="395.8" cy="2370.8" r="2.1"/><circle cx="403.7" cy="2372.7" r="2.1"/><circle cx="390.2" cy="2372.2" r="2.1"/><circle cx="382.2" cy="2345.7" r="2.1"/><circle cx="382.7" cy="2328.2" r="2.1"/><circle cx="406.2" cy="2332.0" r="2.1"/><circle cx="397.8" cy="2354.8" r="2.1"/><circle cx="384.6" cy="2343.8" r="2.1"/><circle cx="375.2" cy="2334.6" r="2.1"/><circle cx="390.9" cy="2379.7" r="2.1"/><circle cx="396.8" cy="2343.4" r="2.1"/><circle cx="388.4" cy="2327.6" r="2.1"/><circle cx="383.0" cy="2335.7" r="2.1"/><circle cx="396.5" cy="2337.7" r="2.1"/><circle cx="405.0" cy="2354.9" r="2.1"/><circle cx="382.0" cy="2373.8" r="2.1"/><circle cx="375.6" cy="2335.2" r="2.1"/><circle cx="385.7" cy="2364.1" r="2.1"/><circle cx="388.4" cy="2334.5" r="2.1"/><circle cx="397.0" cy="2323.7" r="2.1"/><circle cx="381.0" cy="2360.1" r="2.1"/><circle cx="400.8" cy="2359.7" r="2.1"/><circle cx="398.9" cy="2325.3" r="2.1"/><circle cx="391.2" cy="2339.3" r="2.1"/><circle cx="381.3" cy="2374.4" r="2.1"/><circle cx="406.5" cy="2377.1" r="2.1"/><circle cx="384.8" cy="2375.6" r="2.1"/><circle cx="401.6" cy="2327.9" r="2.1"/><circle cx="382.1" cy="2334.1" r="2.1"/><circle cx="381.8" cy="2375.9" r="2.1"/><circle cx="399.6" cy="2332.9" r="2.1"/><circle cx="384.2" cy="2323.2" r="2.1"/><circle cx="405.9" cy="2343.6" r="2.1"/><circle cx="390.9" cy="2363.0" r="2.1"/><circle cx="380.7" cy="2350.4" r="2.1"/><circle cx="381.9" cy="2376.8" r="2.1"/><circle cx="388.3" cy="2384.2" r="2.1"/><circle cx="396.5" cy="2323.8" r="2.1"/><circle cx="405.8" cy="2344.1" r="2.1"/><circle cx="379.3" cy="2351.8" r="2.1"/><circle cx="387.5" cy="2326.1" r="2.1"/><circle cx="381.5" cy="2357.7" r="2.1"/><circle cx="406.6" cy="2330.0" r="2.1"/><circle cx="379.2" cy="2332.9" r="2.1"/><circle cx="376.2" cy="2371.8" r="2.1"/><circle cx="376.5" cy="2369.2" r="2.1"/><circle cx="387.5" cy="2366.6" r="2.1"/><circle cx="404.1" cy="2369.9" r="2.1"/><circle cx="403.7" cy="2348.0" r="2.1"/><circle cx="398.7" cy="2368.7" r="2.1"/><circle cx="407.4" cy="2358.6" r="2.1"/><circle cx="405.2" cy="2376.8" r="2.1"/><circle cx="385.4" cy="2327.6" r="2.1"/><circle cx="380.6" cy="2362.7" r="2.1"/><circle cx="405.4" cy="2356.2" r="2.1"/><circle cx="399.1" cy="2348.2" r="2.1"/><circle cx="375.6" cy="2328.0" r="2.1"/><circle cx="396.4" cy="2358.5" r="2.1"/><circle cx="387.0" cy="2327.1" r="2.1"/><circle cx="386.8" cy="2287.6" r="2.1"/><circle cx="385.4" cy="2285.5" r="2.1"/><circle cx="380.1" cy="2286.1" r="2.1"/><circle cx="374.6" cy="2320.6" r="2.1"/><circle cx="383.7" cy="2291.8" r="2.1"/><circle cx="386.1" cy="2309.4" r="2.1"/><circle cx="406.0" cy="2321.7" r="2.1"/><circle cx="378.6" cy="2267.2" r="2.1"/><circle cx="406.3" cy="2310.1" r="2.1"/><circle cx="381.3" cy="2289.5" r="2.1"/><circle cx="386.3" cy="2272.3" r="2.1"/><circle cx="401.6" cy="2283.8" r="2.1"/><circle cx="401.6" cy="2299.6" r="2.1"/><circle cx="388.8" cy="2286.4" r="2.1"/><circle cx="376.1" cy="2283.9" r="2.1"/><circle cx="390.1" cy="2268.2" r="2.1"/><circle cx="386.8" cy="2314.7" r="2.1"/><circle cx="404.8" cy="2283.6" r="2.1"/><circle cx="380.9" cy="2304.9" r="2.1"/><circle cx="386.5" cy="2303.0" r="2.1"/><circle cx="404.1" cy="2269.1" r="2.1"/><circle cx="375.5" cy="2287.2" r="2.1"/><circle cx="388.1" cy="2283.5" r="2.1"/><circle cx="401.3" cy="2269.9" r="2.1"/><circle cx="399.8" cy="2259.5" r="2.1"/><circle cx="375.8" cy="2291.6" r="2.1"/><circle cx="375.7" cy="2280.0" r="2.1"/><circle cx="376.6" cy="2287.3" r="2.1"/><circle cx="404.9" cy="2286.9" r="2.1"/><circle cx="383.0" cy="2274.5" r="2.1"/><circle cx="399.2" cy="2291.0" r="2.1"/><circle cx="404.2" cy="2285.4" r="2.1"/><circle cx="385.7" cy="2289.2" r="2.1"/><circle cx="383.5" cy="2257.5" r="2.1"/><circle cx="406.1" cy="2274.1" r="2.1"/><circle cx="394.9" cy="2261.9" r="2.1"/><circle cx="383.2" cy="2257.4" r="2.1"/><circle cx="398.1" cy="2304.2" r="2.1"/><circle cx="384.9" cy="2283.6" r="2.1"/><circle cx="383.6" cy="2257.4" r="2.1"/><circle cx="374.6" cy="2264.4" r="2.1"/><circle cx="399.4" cy="2312.5" r="2.1"/><circle cx="404.7" cy="2313.6" r="2.1"/><circle cx="395.4" cy="2291.7" r="2.1"/><circle cx="405.6" cy="2317.0" r="2.1"/><circle cx="375.3" cy="2305.4" r="2.1"/><circle cx="382.2" cy="2316.9" r="2.1"/><circle cx="390.2" cy="2276.1" r="2.1"/><circle cx="406.1" cy="2268.3" r="2.1"/><circle cx="406.0" cy="2260.5" r="2.1"/><circle cx="387.3" cy="2311.3" r="2.1"/><circle cx="382.8" cy="2272.9" r="2.1"/><circle cx="388.7" cy="2276.7" r="2.1"/><circle cx="390.8" cy="2312.1" r="2.1"/><circle cx="405.1" cy="2261.5" r="2.1"/><circle cx="380.5" cy="2255.7" r="2.1"/><circle cx="401.0" cy="2306.9" r="2.1"/><circle cx="398.9" cy="2256.7" r="2.1"/><circle cx="401.7" cy="2294.7" r="2.1"/><circle cx="400.0" cy="2288.6" r="2.1"/><circle cx="394.5" cy="2254.2" r="2.1"/><circle cx="385.3" cy="2264.9" r="2.1"/><circle cx="385.0" cy="2310.9" r="2.1"/><circle cx="386.4" cy="2292.4" r="2.1"/><circle cx="400.3" cy="2286.6" r="2.1"/><circle cx="377.1" cy="2298.7" r="2.1"/><circle cx="381.0" cy="2308.5" r="2.1"/><circle cx="399.3" cy="2300.1" r="2.1"/><circle cx="382.7" cy="2272.5" r="2.1"/><circle cx="376.6" cy="2320.6" r="2.1"/><circle cx="375.6" cy="2284.0" r="2.1"/><circle cx="392.7" cy="2291.8" r="2.1"/><circle cx="385.3" cy="2320.7" r="2.1"/><circle cx="406.8" cy="2299.2" r="2.1"/><circle cx="403.7" cy="2279.2" r="2.1"/><circle cx="407.1" cy="2286.9" r="2.1"/><circle cx="383.2" cy="2317.5" r="2.1"/><circle cx="377.3" cy="2254.5" r="2.1"/><circle cx="377.7" cy="2268.0" r="2.1"/><circle cx="390.9" cy="2255.4" r="2.1"/><circle cx="397.9" cy="2314.7" r="2.1"/><circle cx="389.2" cy="2303.7" r="2.1"/><circle cx="382.2" cy="2319.2" r="2.1"/><circle cx="388.3" cy="2268.6" r="2.1"/><circle cx="395.0" cy="2303.4" r="2.1"/><circle cx="396.7" cy="2313.1" r="2.1"/><circle cx="399.2" cy="2293.0" r="2.1"/><circle cx="402.5" cy="2259.5" r="2.1"/><circle cx="396.4" cy="2265.9" r="2.1"/><circle cx="378.5" cy="2304.2" r="2.1"/><circle cx="402.2" cy="2311.7" r="2.1"/><circle cx="384.2" cy="2259.0" r="2.1"/><circle cx="393.2" cy="2282.9" r="2.1"/><circle cx="386.8" cy="2274.0" r="2.1"/><circle cx="398.9" cy="2315.8" r="2.1"/><circle cx="381.1" cy="2318.0" r="2.1"/><circle cx="382.7" cy="2274.8" r="2.1"/><circle cx="382.6" cy="2292.8" r="2.1"/><circle cx="379.6" cy="2317.0" r="2.1"/><circle cx="403.7" cy="2257.7" r="2.1"/><circle cx="393.6" cy="2278.5" r="2.1"/><circle cx="385.3" cy="2267.1" r="2.1"/><circle cx="387.6" cy="2316.2" r="2.1"/><circle cx="407.3" cy="2263.3" r="2.1"/><circle cx="391.2" cy="2317.4" r="2.1"/><circle cx="382.1" cy="2262.9" r="2.1"/><circle cx="401.2" cy="2290.9" r="2.1"/><circle cx="396.1" cy="2298.7" r="2.1"/><circle cx="407.2" cy="2284.1" r="2.1"/><circle cx="377.9" cy="2258.5" r="2.1"/><circle cx="390.2" cy="2303.6" r="2.1"/><circle cx="401.5" cy="2313.1" r="2.1"/><circle cx="402.2" cy="2285.9" r="2.1"/><circle cx="404.7" cy="2305.6" r="2.1"/><circle cx="375.8" cy="2314.4" r="2.1"/><circle cx="384.2" cy="2310.9" r="2.1"/><circle cx="378.4" cy="2318.5" r="2.1"/><circle cx="380.8" cy="2308.1" r="2.1"/><circle cx="406.6" cy="2300.6" r="2.1"/><circle cx="393.7" cy="2301.0" r="2.1"/><circle cx="405.2" cy="2269.9" r="2.1"/><circle cx="386.8" cy="2302.1" r="2.1"/><circle cx="403.1" cy="2287.7" r="2.1"/><circle cx="389.3" cy="2309.7" r="2.1"/><circle cx="383.1" cy="2298.2" r="2.1"/><circle cx="400.2" cy="2252.1" r="2.1"/><circle cx="405.7" cy="2235.0" r="2.1"/><circle cx="378.0" cy="2252.3" r="2.1"/><circle cx="394.2" cy="2199.4" r="2.1"/><circle cx="395.0" cy="2212.9" r="2.1"/><circle cx="381.7" cy="2239.5" r="2.1"/><circle cx="386.7" cy="2218.5" r="2.1"/><circle cx="379.2" cy="2184.6" r="2.1"/><circle cx="381.2" cy="2245.6" r="2.1"/><circle cx="382.9" cy="2193.1" r="2.1"/><circle cx="394.3" cy="2221.6" r="2.1"/><circle cx="396.0" cy="2217.0" r="2.1"/><circle cx="381.2" cy="2192.0" r="2.1"/><circle cx="374.9" cy="2224.5" r="2.1"/><circle cx="385.3" cy="2216.1" r="2.1"/><circle cx="396.9" cy="2202.8" r="2.1"/><circle cx="380.6" cy="2181.1" r="2.1"/><circle cx="384.8" cy="2228.2" r="2.1"/><circle cx="381.2" cy="2192.1" r="2.1"/><circle cx="400.7" cy="2201.4" r="2.1"/><circle cx="392.6" cy="2206.6" r="2.1"/><circle cx="376.6" cy="2223.6" r="2.1"/><circle cx="377.8" cy="2227.9" r="2.1"/><circle cx="387.5" cy="2249.5" r="2.1"/><circle cx="392.7" cy="2243.9" r="2.1"/><circle cx="395.6" cy="2248.3" r="2.1"/><circle cx="377.5" cy="2198.9" r="2.1"/><circle cx="379.9" cy="2234.6" r="2.1"/><circle cx="397.4" cy="2241.4" r="2.1"/><circle cx="388.0" cy="2247.2" r="2.1"/><circle cx="383.8" cy="2191.5" r="2.1"/><circle cx="384.7" cy="2189.3" r="2.1"/><circle cx="406.0" cy="2204.0" r="2.1"/><circle cx="384.8" cy="2232.7" r="2.1"/><circle cx="393.2" cy="2235.6" r="2.1"/><circle cx="386.3" cy="2231.9" r="2.1"/><circle cx="388.2" cy="2219.6" r="2.1"/><circle cx="403.0" cy="2241.9" r="2.1"/><circle cx="407.4" cy="2220.6" r="2.1"/><circle cx="386.5" cy="2234.1" r="2.1"/><circle cx="381.0" cy="2182.6" r="2.1"/><circle cx="398.5" cy="2181.8" r="2.1"/><circle cx="381.2" cy="2213.2" r="2.1"/><circle cx="374.7" cy="2235.5" r="2.1"/><circle cx="404.3" cy="2182.3" r="2.1"/><circle cx="388.5" cy="2230.7" r="2.1"/><circle cx="401.6" cy="2227.2" r="2.1"/><circle cx="387.9" cy="2253.4" r="2.1"/><circle cx="403.6" cy="2225.3" r="2.1"/><circle cx="389.7" cy="2218.5" r="2.1"/><circle cx="379.9" cy="2216.4" r="2.1"/><circle cx="375.0" cy="2238.7" r="2.1"/><circle cx="392.7" cy="2216.3" r="2.1"/><circle cx="395.6" cy="2253.1" r="2.1"/><circle cx="404.5" cy="2234.0" r="2.1"/><circle cx="377.4" cy="2246.9" r="2.1"/><circle cx="395.0" cy="2224.0" r="2.1"/><circle cx="386.7" cy="2250.4" r="2.1"/><circle cx="391.1" cy="2251.8" r="2.1"/><circle cx="379.3" cy="2231.0" r="2.1"/><circle cx="383.8" cy="2236.3" r="2.1"/><circle cx="391.7" cy="2210.3" r="2.1"/><circle cx="405.0" cy="2214.5" r="2.1"/><circle cx="378.1" cy="2198.2" r="2.1"/><circle cx="390.7" cy="2205.0" r="2.1"/><circle cx="401.1" cy="2200.7" r="2.1"/><circle cx="406.4" cy="2188.7" r="2.1"/><circle cx="381.0" cy="2224.8" r="2.1"/><circle cx="378.7" cy="2229.4" r="2.1"/><circle cx="405.6" cy="2180.9" r="2.1"/><circle cx="406.7" cy="2242.5" r="2.1"/><circle cx="390.4" cy="2200.1" r="2.1"/><circle cx="376.3" cy="2206.1" r="2.1"/><circle cx="405.1" cy="2250.2" r="2.1"/><circle cx="387.3" cy="2191.9" r="2.1"/><circle cx="404.3" cy="2123.4" r="2.1"/><circle cx="395.0" cy="2140.1" r="2.1"/><circle cx="401.7" cy="2133.4" r="2.1"/><circle cx="379.8" cy="2128.4" r="2.1"/><circle cx="400.4" cy="2171.0" r="2.1"/><circle cx="381.8" cy="2146.7" r="2.1"/><circle cx="387.8" cy="2147.9" r="2.1"/><circle cx="402.4" cy="2127.0" r="2.1"/><circle cx="401.9" cy="2128.9" r="2.1"/><circle cx="380.5" cy="2127.6" r="2.1"/><circle cx="381.7" cy="2142.9" r="2.1"/><circle cx="387.7" cy="2123.4" r="2.1"/><circle cx="391.6" cy="2136.6" r="2.1"/><circle cx="387.2" cy="2136.0" r="2.1"/><circle cx="378.6" cy="2165.2" r="2.1"/><circle cx="382.7" cy="2177.8" r="2.1"/><circle cx="398.4" cy="2171.4" r="2.1"/><circle cx="404.1" cy="2157.0" r="2.1"/><circle cx="375.9" cy="2173.1" r="2.1"/><circle cx="393.1" cy="2127.0" r="2.1"/><circle cx="399.5" cy="2144.5" r="2.1"/><circle cx="375.8" cy="2140.1" r="2.1"/><circle cx="402.2" cy="2140.2" r="2.1"/><circle cx="378.4" cy="2136.8" r="2.1"/><circle cx="394.3" cy="2148.9" r="2.1"/><circle cx="392.7" cy="2179.6" r="2.1"/><circle cx="395.2" cy="2129.4" r="2.1"/><circle cx="384.6" cy="2132.5" r="2.1"/><circle cx="388.4" cy="2148.0" r="2.1"/><circle cx="393.7" cy="2146.0" r="2.1"/><circle cx="388.5" cy="2086.7" r="2.1"/><circle cx="396.2" cy="2113.6" r="2.1"/><circle cx="389.2" cy="2083.2" r="2.1"/><circle cx="389.0" cy="2105.2" r="2.1"/><circle cx="375.3" cy="2113.2" r="2.1"/><circle cx="394.9" cy="2104.6" r="2.1"/><circle cx="390.7" cy="2083.6" r="2.1"/><circle cx="382.3" cy="2107.3" r="2.1"/><circle cx="399.7" cy="2083.1" r="2.1"/><circle cx="400.2" cy="2072.4" r="2.1"/><circle cx="389.6" cy="2094.2" r="2.1"/><circle cx="380.4" cy="2099.3" r="2.1"/><circle cx="390.1" cy="2071.3" r="2.1"/><circle cx="378.0" cy="2073.4" r="2.1"/><circle cx="385.5" cy="1869.1" r="2.1"/><circle cx="394.4" cy="2027.1" r="2.1"/><circle cx="544.3" cy="2387.5" r="2.1"/><circle cx="541.4" cy="2368.4" r="2.1"/><circle cx="533.0" cy="2389.8" r="2.1"/><circle cx="541.3" cy="2367.7" r="2.1"/><circle cx="532.6" cy="2363.4" r="2.1"/><circle cx="525.8" cy="2393.1" r="2.1"/><circle cx="522.2" cy="2355.4" r="2.1"/><circle cx="526.0" cy="2390.4" r="2.1"/><circle cx="520.2" cy="2232.0" r="2.1"/><circle cx="529.1" cy="2226.0" r="2.1"/><circle cx="541.5" cy="2262.4" r="2.1"/><circle cx="539.9" cy="2325.0" r="2.1"/><circle cx="544.4" cy="2263.5" r="2.1"/><circle cx="540.4" cy="2280.7" r="2.1"/><circle cx="527.0" cy="2202.3" r="2.1"/><circle cx="535.6" cy="2313.8" r="2.1"/><circle cx="532.1" cy="2215.1" r="2.1"/><circle cx="542.7" cy="2196.1" r="2.1"/><circle cx="534.7" cy="2232.2" r="2.1"/><circle cx="527.0" cy="2220.9" r="2.1"/><circle cx="538.3" cy="2305.9" r="2.1"/><circle cx="548.0" cy="2198.1" r="2.1"/><circle cx="525.5" cy="2265.1" r="2.1"/><circle cx="545.4" cy="2201.5" r="2.1"/><circle cx="519.5" cy="2207.1" r="2.1"/><circle cx="526.8" cy="2309.8" r="2.1"/><circle cx="526.1" cy="2224.5" r="2.1"/><circle cx="541.3" cy="2205.1" r="2.1"/><circle cx="547.3" cy="2323.5" r="2.1"/><circle cx="541.4" cy="2284.4" r="2.1"/><circle cx="528.8" cy="2228.9" r="2.1"/><circle cx="545.4" cy="2310.7" r="2.1"/><circle cx="528.9" cy="2209.7" r="2.1"/><circle cx="526.2" cy="2294.8" r="2.1"/><circle cx="546.2" cy="2220.8" r="2.1"/><circle cx="537.9" cy="2312.8" r="2.1"/><circle cx="539.8" cy="2263.7" r="2.1"/><circle cx="539.0" cy="2206.5" r="2.1"/><circle cx="548.4" cy="2153.4" r="2.1"/><circle cx="533.1" cy="2142.4" r="2.1"/><circle cx="544.2" cy="2093.3" r="2.1"/><circle cx="539.9" cy="2131.1" r="2.1"/><circle cx="544.7" cy="2188.1" r="2.1"/><circle cx="532.1" cy="2158.7" r="2.1"/><circle cx="540.7" cy="2163.0" r="2.1"/><circle cx="536.1" cy="2006.2" r="2.1"/><circle cx="528.2" cy="2058.1" r="2.1"/><circle cx="525.4" cy="2014.5" r="2.1"/><circle cx="537.7" cy="2161.4" r="2.1"/><circle cx="521.3" cy="2036.9" r="2.1"/><circle cx="546.3" cy="2172.3" r="2.1"/><circle cx="523.3" cy="2088.3" r="2.1"/><circle cx="519.8" cy="2066.9" r="2.1"/><circle cx="522.2" cy="2122.8" r="2.1"/><circle cx="546.9" cy="2019.1" r="2.1"/><circle cx="529.3" cy="2083.3" r="2.1"/><circle cx="523.3" cy="2078.3" r="2.1"/><circle cx="519.9" cy="2017.1" r="2.1"/><circle cx="520.2" cy="2174.4" r="2.1"/><circle cx="539.8" cy="1994.8" r="2.1"/><circle cx="538.0" cy="2068.2" r="2.1"/><circle cx="539.9" cy="2115.9" r="2.1"/><circle cx="541.1" cy="2034.3" r="2.1"/><circle cx="521.0" cy="2142.0" r="2.1"/><circle cx="536.7" cy="1995.3" r="2.1"/><circle cx="529.9" cy="2078.8" r="2.1"/><circle cx="543.5" cy="2122.7" r="2.1"/><circle cx="543.6" cy="2041.0" r="2.1"/><circle cx="545.7" cy="2106.1" r="2.1"/><circle cx="521.0" cy="2159.8" r="2.1"/><circle cx="545.0" cy="2045.2" r="2.1"/><circle cx="546.4" cy="2185.8" r="2.1"/><circle cx="547.3" cy="2029.8" r="2.1"/><circle cx="522.2" cy="2144.3" r="2.1"/><circle cx="525.2" cy="2066.3" r="2.1"/><circle cx="522.4" cy="1936.4" r="2.1"/><circle cx="520.0" cy="1959.5" r="2.1"/><circle cx="544.4" cy="1954.9" r="2.1"/><circle cx="543.4" cy="1975.3" r="2.1"/><circle cx="538.0" cy="1993.3" r="2.1"/><circle cx="543.8" cy="1991.4" r="2.1"/><circle cx="537.9" cy="1984.7" r="2.1"/><circle cx="527.6" cy="1957.7" r="2.1"/><circle cx="522.0" cy="1968.4" r="2.1"/><circle cx="521.9" cy="1963.7" r="2.1"/><circle cx="541.7" cy="1941.5" r="2.1"/><circle cx="525.1" cy="1985.7" r="2.1"/><circle cx="528.6" cy="1980.2" r="2.1"/><circle cx="531.7" cy="1955.6" r="2.1"/><circle cx="519.6" cy="1992.1" r="2.1"/><circle cx="526.7" cy="1993.2" r="2.1"/><circle cx="527.5" cy="1972.8" r="2.1"/><circle cx="540.5" cy="1987.2" r="2.1"/><circle cx="530.0" cy="1972.7" r="2.1"/><circle cx="528.6" cy="1980.4" r="2.1"/><circle cx="547.9" cy="1959.6" r="2.1"/><circle cx="534.1" cy="1959.3" r="2.1"/><circle cx="544.5" cy="1981.6" r="2.1"/><circle cx="537.5" cy="1957.2" r="2.1"/><circle cx="519.9" cy="1965.9" r="2.1"/><circle cx="531.4" cy="1985.6" r="2.1"/><circle cx="532.1" cy="1939.1" r="2.1"/><circle cx="542.2" cy="1979.3" r="2.1"/><circle cx="529.4" cy="1984.7" r="2.1"/><circle cx="540.1" cy="1987.8" r="2.1"/><circle cx="535.1" cy="1956.4" r="2.1"/><circle cx="525.5" cy="1942.9" r="2.1"/><circle cx="544.9" cy="1948.1" r="2.1"/><circle cx="521.7" cy="1970.1" r="2.1"/><circle cx="543.6" cy="1978.1" r="2.1"/><circle cx="524.1" cy="1992.7" r="2.1"/><circle cx="519.0" cy="1956.0" r="2.1"/><circle cx="525.1" cy="1960.8" r="2.1"/><circle cx="541.9" cy="1895.4" r="2.1"/><circle cx="548.3" cy="1870.2" r="2.1"/><circle cx="519.1" cy="1887.1" r="2.1"/><circle cx="533.7" cy="1847.5" r="2.1"/><circle cx="533.7" cy="1863.2" r="2.1"/><circle cx="542.9" cy="1905.0" r="2.1"/><circle cx="524.5" cy="1850.0" r="2.1"/><circle cx="533.8" cy="1927.9" r="2.1"/><circle cx="529.4" cy="1879.6" r="2.1"/><circle cx="544.0" cy="1890.4" r="2.1"/><circle cx="526.8" cy="1906.1" r="2.1"/><circle cx="547.3" cy="1925.9" r="2.1"/><circle cx="527.5" cy="1859.6" r="2.1"/><circle cx="525.4" cy="1932.7" r="2.1"/><circle cx="540.0" cy="1878.0" r="2.1"/><circle cx="533.9" cy="1847.2" r="2.1"/><circle cx="522.3" cy="1916.0" r="2.1"/><circle cx="538.1" cy="1909.9" r="2.1"/><circle cx="521.4" cy="1873.2" r="2.1"/><circle cx="542.6" cy="1881.7" r="2.1"/><circle cx="539.9" cy="1870.5" r="2.1"/><circle cx="542.6" cy="1856.9" r="2.1"/><circle cx="537.8" cy="1912.5" r="2.1"/><circle cx="529.7" cy="1899.2" r="2.1"/><circle cx="531.0" cy="1900.1" r="2.1"/><circle cx="530.8" cy="1927.2" r="2.1"/><circle cx="545.7" cy="1851.1" r="2.1"/><circle cx="521.6" cy="1859.3" r="2.1"/><circle cx="545.7" cy="1864.6" r="2.1"/><circle cx="519.8" cy="1933.9" r="2.1"/><circle cx="525.2" cy="2395.6" r="2.1"/><circle cx="529.5" cy="1795.4" r="2.1"/></g>
<line x1="334.9" y1="2321.9" x2="449.7" y2="2321.9" stroke="#000" stroke-width="6"/>
<line x1="478.5" y1="1993.4" x2="592.8" y2="1993.4" stroke="#000" stroke-width="6"/>
<rect x="334.9" y="2487.4" width="114.8" height="7" fill="#000"/>
<rect x="478.5" y="2487.4" width="114.8" height="7" fill="#000"/>
<path d="M391.8,1850.6 V1761.2 H449.4 M477.8,1761.2 H535.7 V1778.6" fill="none" stroke="#777" stroke-width="1.8"/>
<text x="463.4" y="1786.4" font-size="48" fill="#ff1010" text-anchor="middle">*</text>
</svg></body></html>
